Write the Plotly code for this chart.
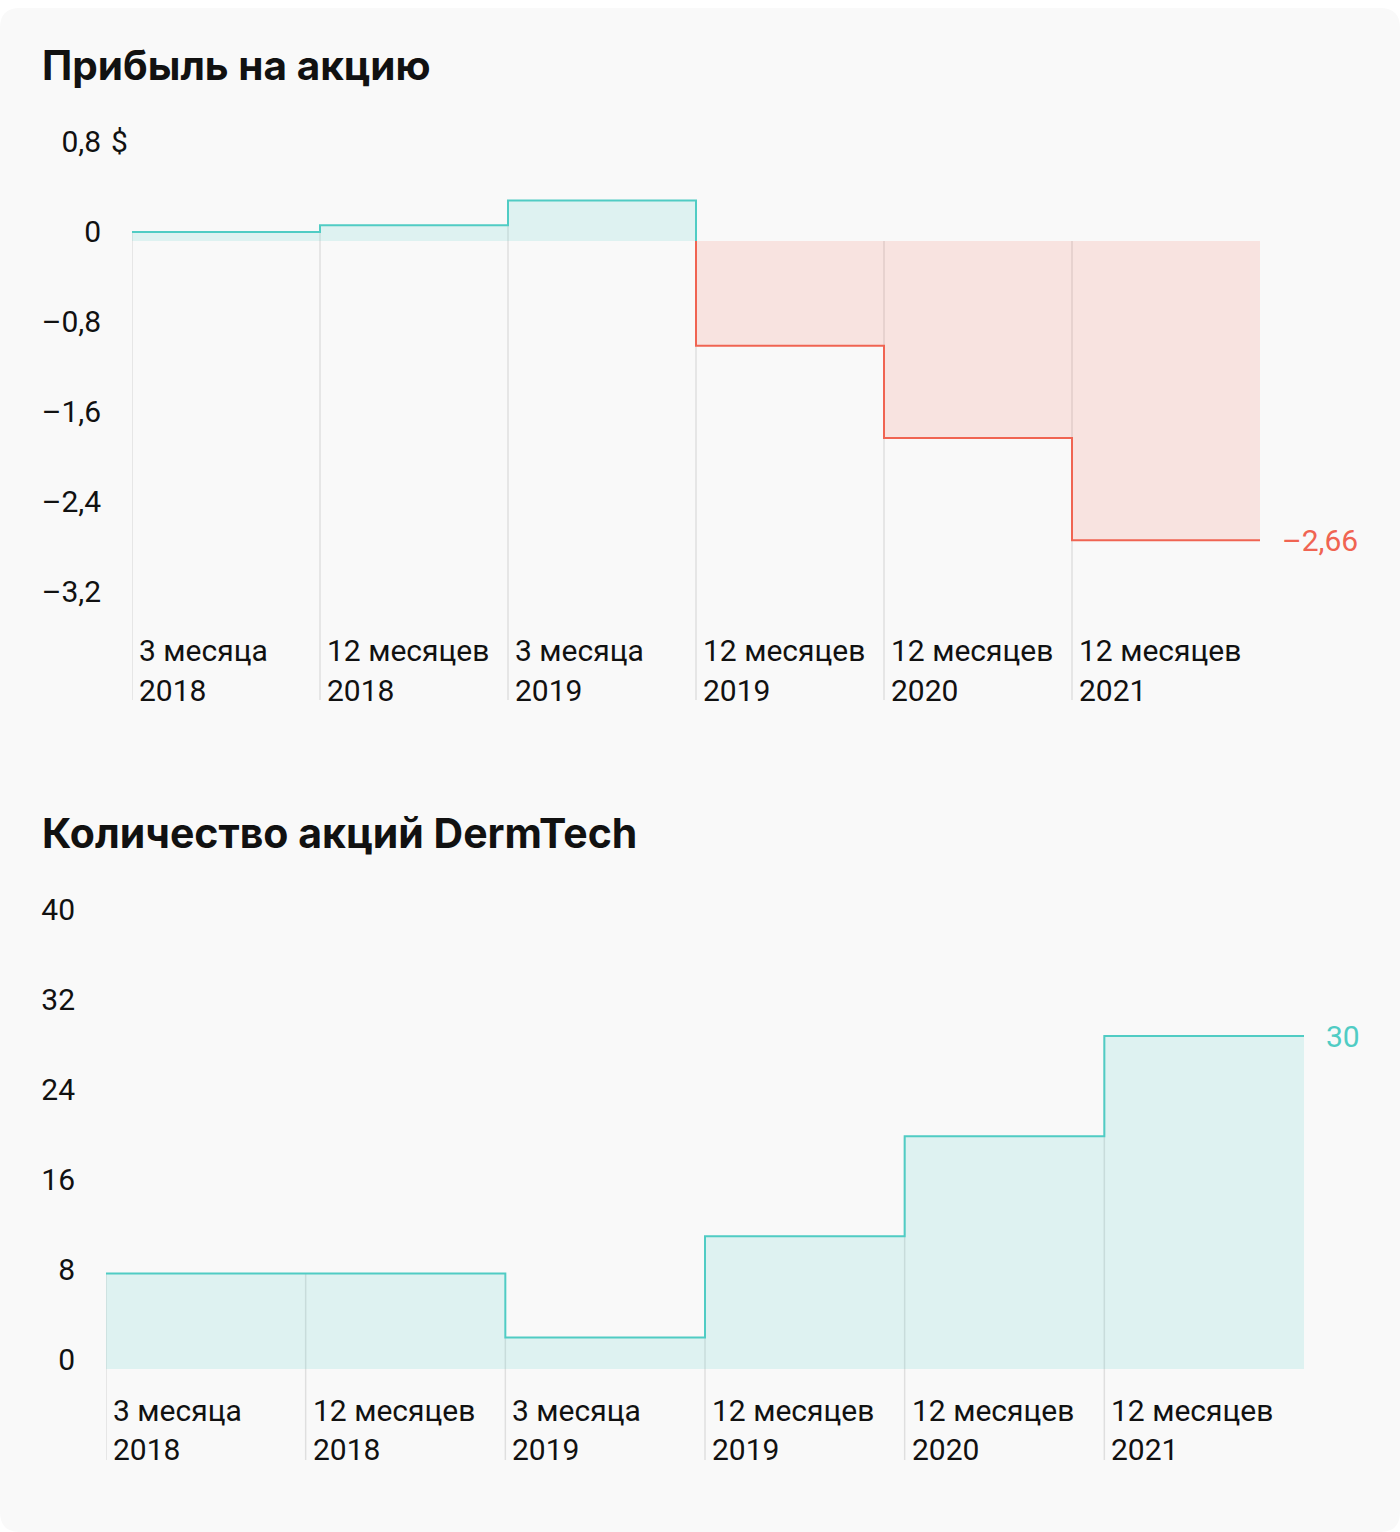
import plotly.graph_objects as go

W, H = 1400, 1532

# ---- data ----
periods = ["3 месяца", "12 месяцев", "3 месяца", "12 месяцев", "12 месяцев", "12 месяцев"]
years = ["2018", "2018", "2019", "2019", "2020", "2021"]
eps = [0.08, 0.14, 0.36, -0.93, -1.75, -2.66]
shares = [8.5, 8.5, 2.8, 11.8, 20.7, 29.6]
eps_ticks = [0.8, 0, -0.8, -1.6, -2.4, -3.2]
eps_ticktext = ["0,8", "0", "–0,8", "–1,6", "–2,4", "–3,2"]
share_ticks = [40, 32, 24, 16, 8, 0]
share_ticktext = ["40", "32", "24", "16", "8", "0"]
eps_last_label = "–2,66"
shares_last_label = "30"
title1 = "Прибыль на акцию"
title2 = "Количество акций DermTech"

TEAL = "rgb(80,204,196)"
TEAL_FILL = "rgba(80,204,196,0.16)"
RED = "rgb(240,100,82)"
RED_FILL = "rgba(240,100,82,0.15)"
GRID = "rgba(0,0,0,0.10)"
TXT = "#111111"
FONT = "Roboto"
FS = 30

# vertical pixel mapping (compensates the capture's top band)
K = 1540 / 1532

def fy(y):
    return K * y - 8

def px(x):
    return x / W

def py(y):
    return 1 - fy(y) / H

t_x0, t_x1 = 132, 1260
t_ytop, t_ybot, t_zero, t_scale = fy(130), fy(700), fy(241), 112.5 * K
t_range = [(t_zero - t_ybot) / t_scale, (t_zero - t_ytop) / t_scale]
b_x0, b_x1 = 106, 1304
b_ytop, b_ybot, b_zero, b_scale = fy(900), fy(1460), fy(1369), 11.25 * K
b_range = [(b_zero - b_ybot) / b_scale, (b_zero - b_ytop) / b_scale]

n = len(eps)
fig = go.Figure()

pos_idx = [i for i, v in enumerate(eps) if v >= 0]
neg_idx = [i for i, v in enumerate(eps) if v < 0]
px_pos = pos_idx + [pos_idx[-1] + 1, pos_idx[-1] + 1]
py_pos = [eps[i] for i in pos_idx] + [eps[pos_idx[-1]], 0]
fig.add_trace(go.Scatter(x=px_pos, y=py_pos, mode="lines", line=dict(color=TEAL, width=2, shape="hv"),
                         fill="tozeroy", fillcolor=TEAL_FILL, hoverinfo="skip", xaxis="x", yaxis="y"))
px_neg = [neg_idx[0]] + neg_idx + [neg_idx[-1] + 1]
py_neg = [0] + [eps[i] for i in neg_idx] + [eps[neg_idx[-1]]]
fig.add_trace(go.Scatter(x=px_neg, y=py_neg, mode="lines", line=dict(color=RED, width=2, shape="hv"),
                         fill="tozeroy", fillcolor=RED_FILL, hoverinfo="skip", xaxis="x", yaxis="y"))
fig.add_trace(go.Scatter(x=list(range(n + 1)), y=shares + [shares[-1]], mode="lines",
                         line=dict(color=TEAL, width=2, shape="hv"),
                         fill="tozeroy", fillcolor=TEAL_FILL, hoverinfo="skip", xaxis="x2", yaxis="y2"))

shapes = []
r = 20
rx, ry = r / W, r / H
path = (f"M {rx},1 L {1-rx},1 Q 1,1 1,{1-ry} L 1,{ry} Q 1,0 {1-rx},0 L {rx},0 Q 0,0 0,{ry} "
        f"L 0,{1-ry} Q 0,1 {rx},1 Z")
shapes.append(dict(type="path", path=path, xref="paper", yref="paper", fillcolor="#f9f9f9",
                   line=dict(width=0), layer="below"))
for i in range(n):
    shapes.append(dict(type="line", xref="x", yref="y", x0=i, x1=i, y0=t_range[0], y1=max(eps[i], 0),
                       line=dict(color=GRID, width=1.5), layer="below"))
    shapes.append(dict(type="line", xref="x2", yref="y2", x0=i, x1=i, y0=b_range[0], y1=shares[i],
                       line=dict(color=GRID, width=1.5), layer="below"))

ann = []
ann.append(dict(text=f"<b>{title1}</b>", xref="paper", yref="paper", x=px(40), y=py(65),
                xanchor="left", yanchor="middle", showarrow=False,
                font=dict(family="Inter", size=40.5, color=TXT)))
ann.append(dict(text=f"<b>{title2}</b>", xref="paper", yref="paper", x=px(40), y=py(833),
                xanchor="left", yanchor="middle", showarrow=False,
                font=dict(family="Inter", size=41, color=TXT)))
for i in range(n):
    for xa, yl1, yl2 in (("x", 650, 690), ("x2", 1410, 1449)):
        ann.append(dict(text=periods[i], xref=xa, yref="paper", x=i, y=py(yl1), xanchor="left",
                        yanchor="middle", xshift=5, showarrow=False, font=dict(family=FONT, size=FS, color=TXT)))
        ann.append(dict(text=years[i], xref=xa, yref="paper", x=i, y=py(yl2), xanchor="left",
                        yanchor="middle", xshift=5, showarrow=False, font=dict(family=FONT, size=FS, color=TXT)))
ann.append(dict(text="$", xref="paper", yref="y", x=px(109), y=eps_ticks[0], xanchor="left",
                yanchor="middle", yshift=10, showarrow=False, font=dict(family=FONT, size=FS, color=TXT)))
ann.append(dict(text=eps_last_label, xref="x", yref="y", x=n, y=eps[-1], xanchor="left", yanchor="middle",
                xshift=20, showarrow=False, font=dict(family=FONT, size=FS, color=RED)))
ann.append(dict(text=shares_last_label, xref="x2", yref="y2", x=n, y=shares[-1], xanchor="left",
                yanchor="middle", xshift=20, showarrow=False, font=dict(family=FONT, size=FS, color=TEAL)))

axis_common = dict(showgrid=False, zeroline=False, showline=False, ticks="", fixedrange=True)
fig.update_layout(
    width=W, height=H, margin=dict(l=0, r=0, t=0, b=0),
    paper_bgcolor="#ffffff", plot_bgcolor="rgba(0,0,0,0)", showlegend=False,
    font=dict(family=FONT, size=FS, color=TXT),
    xaxis=dict(domain=[px(t_x0), px(t_x1)], range=[0, n], showticklabels=False, anchor="y", **axis_common),
    yaxis=dict(domain=[1 - t_ybot / H, 1 - t_ytop / H], range=t_range, tickvals=eps_ticks, ticktext=eps_ticktext,
               ticklabelshift=-10, ticklabelstandoff=30, anchor="x",
               tickfont=dict(family=FONT, size=FS, color=TXT), **axis_common),
    xaxis2=dict(domain=[px(b_x0), px(b_x1)], range=[0, n], showticklabels=False, anchor="y2", **axis_common),
    yaxis2=dict(domain=[1 - b_ybot / H, 1 - b_ytop / H], range=b_range, tickvals=share_ticks,
                ticktext=share_ticktext, ticklabelshift=-10, ticklabelstandoff=30, anchor="x2",
                tickfont=dict(family=FONT, size=FS, color=TXT), **axis_common),
    shapes=shapes, annotations=ann,
)

fig.write_html("out.html", config={"displayModeBar": False},
               post_script="document.body.style.margin='0px';")
